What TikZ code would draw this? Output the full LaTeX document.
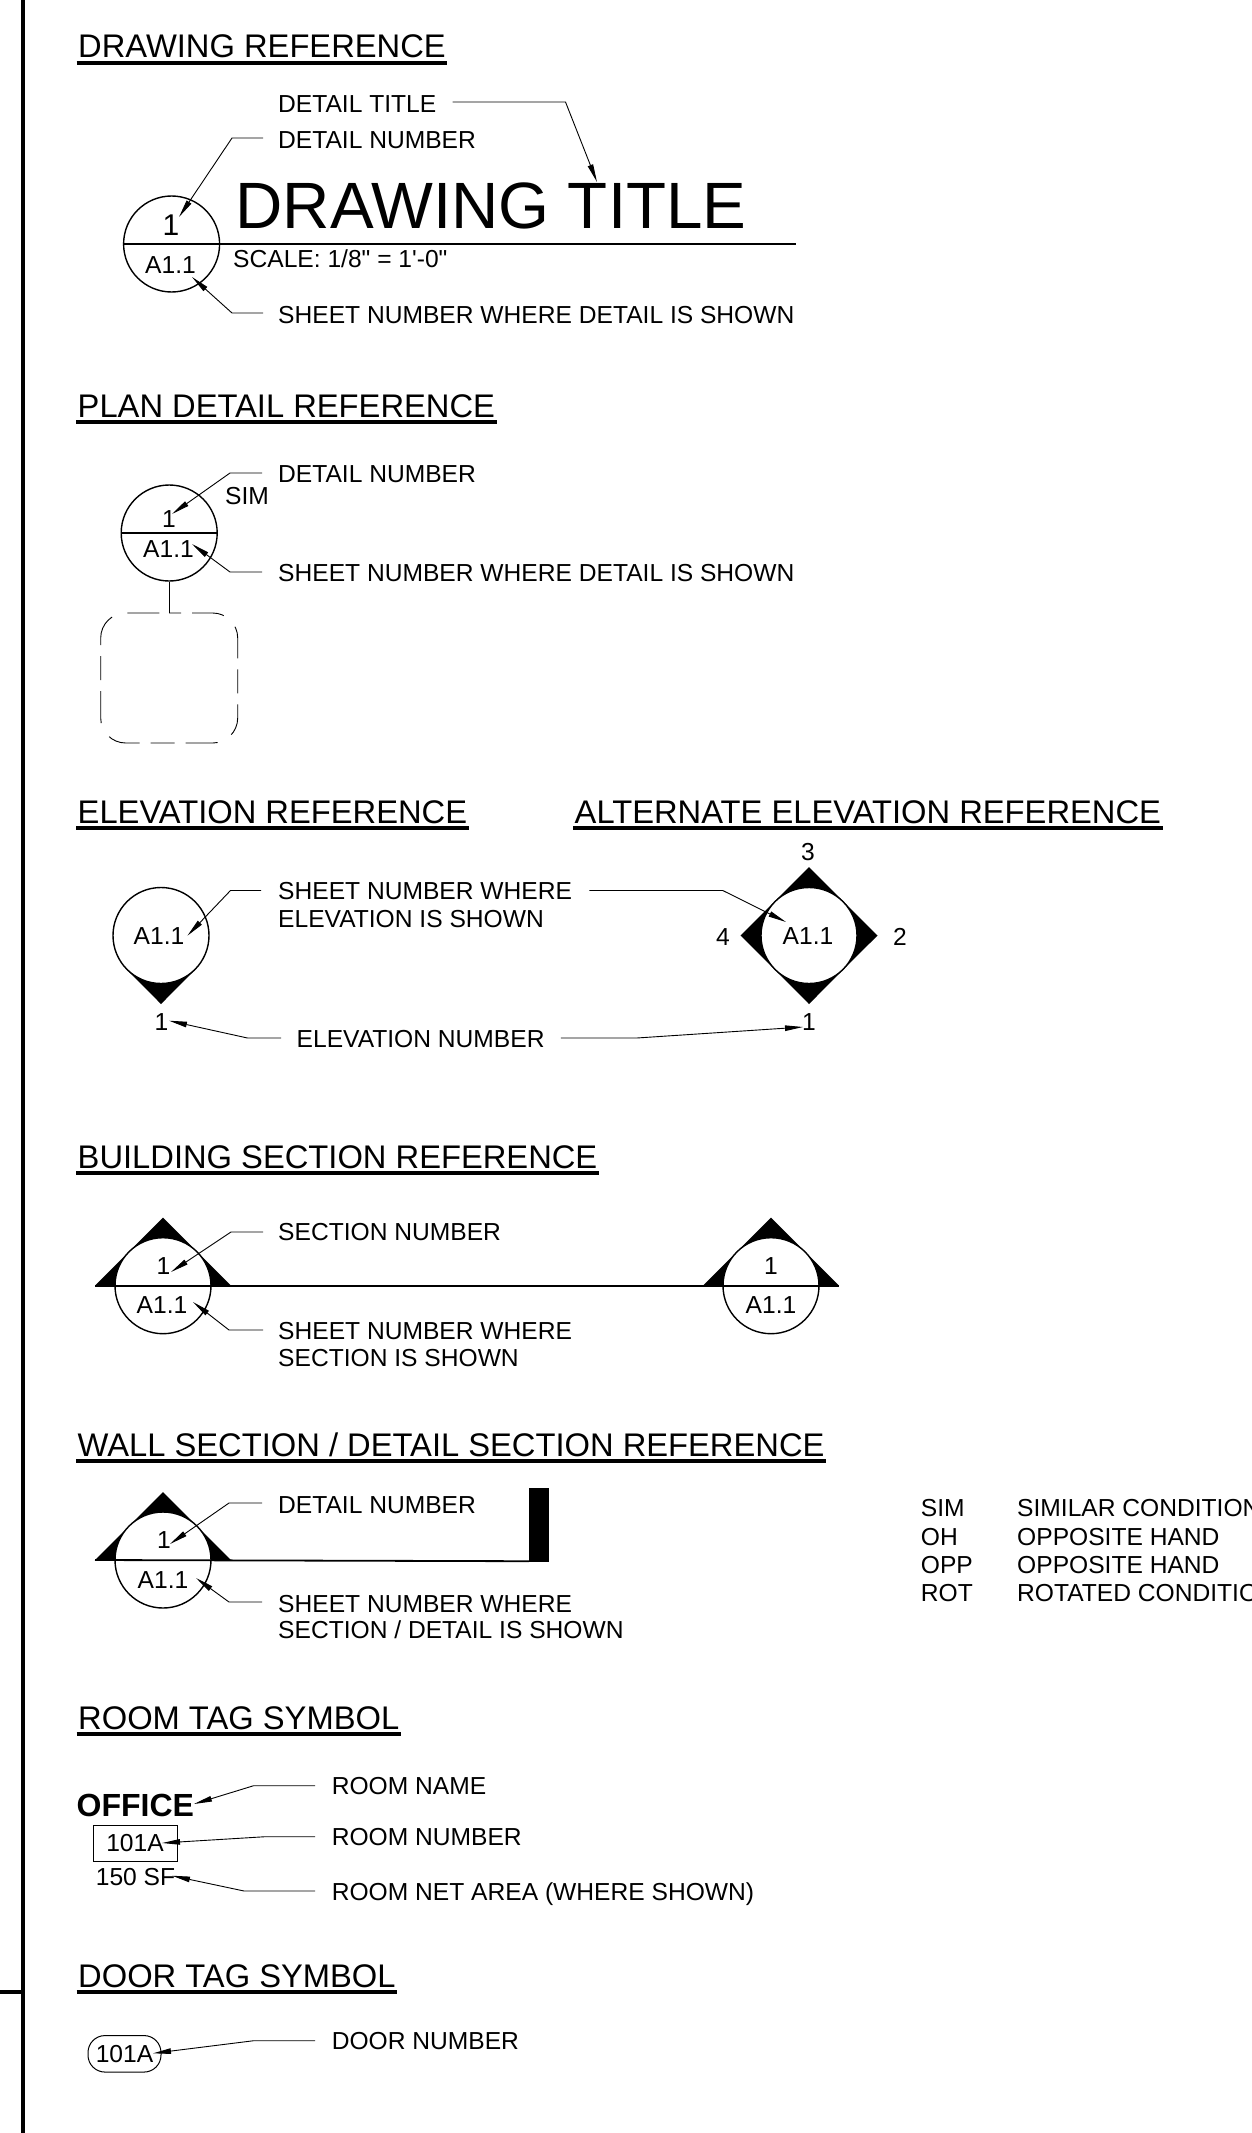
\documentclass[tikz,border=0pt]{standalone}
\usepackage{fontspec}
\usepackage{tikz}
\usetikzlibrary{arrows.meta}
\newfontfamily\cadfont{Liberation Sans}
\tikzstyle{note}=[font=\cadfont\fontsize{24.6}{24.6}\selectfont,anchor=base west,inner sep=0pt]
\tikzstyle{tagtext}=[note,anchor=base]
\tikzstyle{heading}=[font=\cadfont\fontsize{32.7}{32.7}\selectfont,anchor=base west,inner xsep=1.5pt,inner ysep=0pt]
\tikzstyle{headline}=[line width=3.6pt]
\tikzstyle{leader}=[line width=0.9pt,-{Triangle[length=18pt,width=5.5pt]}]
\tikzstyle{tagcircle}=[circle,draw,line width=1.4pt,fill=white,minimum size=96pt,inner sep=0pt]
\tikzstyle{rule}=[line width=1.8pt]
% pointer of a reference mark: centre x, centre y, turn
\newcommand{\pointer}[3]{\fill[shift={(#1,#2)},rotate=#3] (0,68.5) -- (-34.2,34.2) -- (0,0) -- (34.2,34.2) -- cycle;}
\newcommand{\halfmark}[2]{\fill (#1,#2) ++(-68,0) -- ++(68,-68) -- ++(68,68) -- cycle;}
\begin{document}
\begin{tikzpicture}[x=1pt,y=-1pt]
\useasboundingbox (0,0) rectangle (1251,2133);
% sheet border
\coordinate (bordertop) at (22.5,0);
\coordinate (borderend) at (22.5,2133);
\coordinate (tickend) at (0,1992);
\coordinate (tickjoin) at (22.5,1992);
\draw[line width=4pt] (bordertop) -- (borderend);
\draw[line width=4pt] (tickend) -- (tickjoin);
% headings
\foreach \nm/\xx/\yy/\txt in {hdraw/76.5/58/DRAWING REFERENCE, hplan/76/417/PLAN DETAIL REFERENCE,
    helev/76/823/ELEVATION REFERENCE, halt/573/823/ALTERNATE ELEVATION REFERENCE,
    hbldg/76/1168/BUILDING SECTION REFERENCE, hwall/76/1456/{WALL SECTION / DETAIL SECTION REFERENCE},
    hroom/76.5/1729/ROOM TAG SYMBOL, hdoor/76.5/1987/DOOR TAG SYMBOL} {
    \node[heading] (\nm) at (\xx,\yy) {\txt};
    \draw[headline] ([yshift=-5pt]\nm.base west) -- ([yshift=-5pt]\nm.base east);
}
% drawing reference
\node[tagcircle] (drawc) at (171.6,244) {};
\coordinate (drawend) at (796,244);
\draw[rule] (drawc.west) -- (drawend);
\node[tagtext,font=\cadfont\fontsize{30}{30}\selectfont] (drawnum) at (171,235) {1};
\node[tagtext] (drawsheet) at (170.5,273) {A1.1};
\node[note,font=\cadfont\fontsize{65.5}{65.5}\selectfont] (drawtitle) at (235.5,228) {DRAWING TITLE};
\node[note] (drawscale) at (233,267) {SCALE: 1/8" = 1'-0"};
\node[note] (lbltitle) at (278,112) {DETAIL TITLE};
\node[note] (lblnum) at (278,148) {DETAIL NUMBER};
\node[note] (lblsheet) at (278,323) {SHEET NUMBER WHERE DETAIL IS SHOWN};
\coordinate (tiptitle) at (597,182);
\coordinate (tipnum) at (179,217);
\coordinate (tipsheet) at (192,277);
\draw[leader] ([shift={(16,-10)}]lbltitle.base east) -- ++(113,0) -- (tiptitle);
\draw[leader] ([shift={(-15,-10)}]lblnum.base west) -- ++(-31,0) -- (tipnum);
\draw[leader] ([shift={(-15,-10)}]lblsheet.base west) -- ++(-31,0) -- (tipsheet);
% plan detail reference
\node[tagcircle] (planc) at (169.2,533) {};
\draw[rule] (planc.west) -- (planc.east);
\node[tagtext] (plannum) at (169,527) {1};
\node[tagtext] (plansheet) at (168.5,557) {A1.1};
\node[note] (plansim) at (225,504) {SIM};
\node[note] (lblplannum) at (278,482) {DETAIL NUMBER};
\node[note] (lblplansheet) at (278,581) {SHEET NUMBER WHERE DETAIL IS SHOWN};
\coordinate (tipplannum) at (172,514);
\coordinate (tipplansheet) at (192,544);
\draw[leader] ([shift={(-16,-9)}]lblplannum.base west) -- ++(-32,0) -- (tipplannum);
\draw[leader] ([shift={(-16,-9)}]lblplansheet.base west) -- ++(-32,0) -- (tipplansheet);
\coordinate (boxtop) at (169.2,613);
\draw[line width=1.2pt] (planc.south) -- (boxtop);
\draw[line width=0.9pt,rounded corners=25pt,dash pattern=on 24pt off 11pt on 32pt off 16pt on 32pt off 11pt,dash phase=12pt]
    (boxtop) -| (237.7,678) |- (169.2,743) -| (100.7,678) |- (boxtop);
% alternate elevation reference
\foreach \turn in {0,90,180,270} {
    \pointer{809}{935.5}{\turn}
}
\node[tagcircle] (altc) at (809,935.5) {};
\node[tagtext] (altsheet) at (808,944) {A1.1};
\node[tagtext] (altthree) at (808,860.7) {3};
\node[tagtext] (altfour) at (723,945) {4};
\node[tagtext] (alttwo) at (900,945) {2};
\node[tagtext] (altone) at (809,1030.7) {1};
% elevation reference
\pointer{161}{935.5}{0}
\node[tagcircle] (elevc) at (161,935.5) {};
\node[tagtext] (elevsheet) at (159,944) {A1.1};
\node[tagtext] (elevnum) at (161.5,1030.7) {1};
\node[note] (lblelev) at (278,899) {SHEET NUMBER WHERE};
\node[note] (lblelevb) at (278,927) {ELEVATION IS SHOWN};
\node[note] (lblelevnum) at (296.5,1047.7) {ELEVATION NUMBER};
\coordinate (tipelev) at (187.4,935.7);
\coordinate (tipaltsheet) at (786,922);
\coordinate (tipelevnum) at (169,1020.7);
\coordinate (tipaltnum) at (803,1027);
\draw[leader] ([shift={(-17,-8.5)}]lblelev.base west) -- ++(-30.5,0) -- (tipelev);
\draw[leader] ([shift={(17,-8.5)}]lblelev.base east) -- ++(133.5,0) -- (tipaltsheet);
\draw[leader] ([shift={(-15.5,-9.7)}]lblelevnum.base west) -- ++(-33.5,0) -- (tipelevnum);
\draw[leader] ([shift={(16,-9.7)}]lblelevnum.base east) -- ++(76,0) -- (tipaltnum);
% building section reference
\halfmark{163}{1285.7}
\halfmark{771}{1285.7}
\node[tagcircle] (bldga) at (163,1285.7) {};
\node[tagcircle] (bldgb) at (771,1285.7) {};
\coordinate (bldgleft) at (95,1285.7);
\coordinate (bldgright) at (839,1285.7);
\draw[rule] (bldgleft) -- (bldgright);
\node[tagtext] (bldganum) at (163.5,1274) {1};
\node[tagtext] (bldgasheet) at (162,1313) {A1.1};
\node[tagtext] (bldgbnum) at (771,1274) {1};
\node[tagtext] (bldgbsheet) at (771,1313) {A1.1};
\node[note] (lblbldg) at (278,1240) {SECTION NUMBER};
\node[note] (lblbldgs) at (278,1339) {SHEET NUMBER WHERE};
\node[note] (lblbldgb) at (278,1366) {SECTION IS SHOWN};
\coordinate (tipbldg) at (171,1272);
\coordinate (tipbldgs) at (193,1302);
\draw[leader] ([shift={(-15,-8)}]lblbldg.base west) -- ++(-32,0) -- (tipbldg);
\draw[leader] ([shift={(-15,-9)}]lblbldgs.base west) -- ++(-34,0) -- (tipbldgs);
% wall section / detail section reference
\halfmark{163}{1560}
\node[tagcircle] (wallc) at (163,1560) {};
\node[draw,fill,inner sep=0pt,minimum width=19pt,minimum height=73pt] (wallbar) at (538.5,1524.5) {};
\coordinate (wallleft) at (95,1560);
\draw[rule] (wallleft) -- (wallbar.south west);
\node[tagtext] (wallnum) at (164,1548) {1};
\node[tagtext] (wallsheet) at (163,1588) {A1.1};
\node[note] (lblwall) at (278,1513) {DETAIL NUMBER};
\node[note] (lblwalls) at (278,1612) {SHEET NUMBER WHERE};
\node[note] (lblwallb) at (278,1638) {SECTION / DETAIL IS SHOWN};
\coordinate (tipwall) at (170,1544);
\coordinate (tipwalls) at (196,1578);
\draw[leader] ([shift={(-16,-10)}]lblwall.base west) -- ++(-33,0) -- (tipwall);
\draw[leader] ([shift={(-16,-10)}]lblwalls.base west) -- ++(-33,0) -- (tipwalls);
% abbreviations
\foreach \nm/\yy/\abbr/\txt in {asim/1516.7/SIM/SIMILAR CONDITION, aoh/1545/OH/OPPOSITE HAND,
    aopp/1573/OPP/OPPOSITE HAND, arot/1601/ROT/ROTATED CONDITION} {
    \node[note] (\nm) at (920.7,\yy) {\abbr};
    \node[note] (\nm txt) at (1017,\yy) {\txt};
}
% room tag symbol
\node[note,font=\cadfont\bfseries\fontsize{32}{32}\selectfont] (roomname) at (76.5,1816) {OFFICE};
\node[draw,line width=1pt,inner sep=0pt,minimum width=84pt,minimum height=36pt] (roombox) at (135.5,1843.7) {};
\node[tagtext] (roomnum) at (135,1851.7) {101A};
\node[tagtext] (roomarea) at (135.5,1885.7) {150 SF};
\node[note] (lblroomname) at (331.6,1794) {ROOM NAME};
\node[note] (lblroomnum) at (331.6,1845.7) {ROOM NUMBER};
\node[note] (lblroomarea) at (331.6,1900) {ROOM NET AREA (WHERE SHOWN)};
\coordinate (tiproomname) at (194,1804);
\coordinate (tiproomnum) at (162,1843);
\coordinate (tiproomarea) at (172,1875.7);
\draw[leader] ([shift={(-16.5,-8.3)}]lblroomname.base west) -- ++(-61.5,0) -- (tiproomname);
\draw[leader] ([shift={(-16.5,-9)}]lblroomnum.base west) -- ++(-50,0) -- (tiproomnum);
\draw[leader] ([shift={(-16.5,-9)}]lblroomarea.base west) -- ++(-71,0) -- (tiproomarea);
% door tag symbol
\node[draw,line width=1pt,rounded corners=17pt,inner sep=0pt,minimum width=73pt,minimum height=36.5pt] (doorbox) at (124.5,2053.8) {};
\node[tagtext] (doornum) at (124.5,2062.7) {101A};
\node[note] (lbldoor) at (331.6,2049) {DOOR NUMBER};
\coordinate (tipdoor) at (153,2053.3);
\draw[leader] ([shift={(-16.5,-8.3)}]lbldoor.base west) -- ++(-61.5,0) -- (tipdoor);
\end{tikzpicture}
\end{document}
